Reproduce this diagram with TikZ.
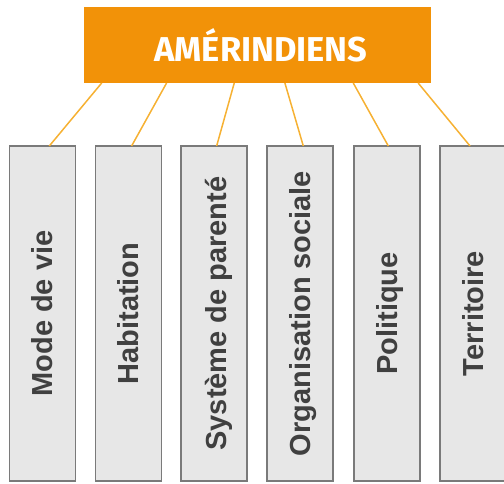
\documentclass[tikz,border=0pt]{standalone}
\usepackage{fontspec}
\setmainfont{Liberation Sans}
\newfontfamily\titlefont{Fira Sans}
\usetikzlibrary{calc}
\definecolor{orangebox}{HTML}{F29208}
\definecolor{linkcol}{HTML}{F6B133}
\definecolor{greyfill}{HTML}{E7E7E7}
\definecolor{greyline}{HTML}{7A7A7A}
\definecolor{labeltext}{HTML}{404040}
\tikzset{
  titlebox/.style={rectangle, fill=orangebox, inner sep=0pt, outer sep=0pt,
    minimum width=347pt, minimum height=76pt, text=white,
    font=\titlefont\bfseries\fontsize{34.5}{40}\selectfont},
  catbox/.style={rectangle, draw=greyline, fill=greyfill, line width=1.4pt,
    inner sep=0pt, outer sep=0pt, minimum width=66pt, minimum height=335pt},
  catlabel/.style={rotate=90, anchor=base, inner sep=0pt, text=labeltext,
    font=\bfseries\fontsize{29}{34}\selectfont},
  link/.style={draw=linkcol, line width=1.5pt}
}
\begin{document}
\begin{tikzpicture}[x=1pt,y=1pt]
\useasboundingbox (0,0) rectangle (504,-483);
\clip (0,0) rectangle (504,-483);
\node[titlebox] (top) at (257.5,-45) {\hspace*{7pt}AMÉRINDIENS};
\node[catbox] (b1) at (42.3,-313.5) {};
\node[catbox] (b2) at (128.3,-313.5) {};
\node[catbox] (b3) at (214,-313.5) {};
\node[catbox] (b4) at (300,-313.5) {};
\node[catbox] (b5) at (387,-313.5) {};
\node[catbox] (b6) at (473,-313.5) {};
\node[catlabel] (l1) at ([xshift=10.5pt]b1.center) {Mode de vie};
\node[catlabel] (l2) at ([xshift=10.5pt]b2.center) {Habitation};
\node[catlabel] (l3) at ([xshift=12pt]b3.center) {Système de parenté};
\node[catlabel] (l4) at ([xshift=10.5pt]b4.center) {Organisation sociale};
\node[catlabel] (l5) at ([xshift=10.5pt]b5.center) {Politique};
\node[catlabel] (l6) at ([xshift=10.5pt]b6.center) {Territoire};
\draw[link] ($(top.south west)!0.051!(top.south east)$) -- ($(b1.north west)!0.606!(b1.north east)$);
\draw[link] ($(top.south west)!0.238!(top.south east)$) -- ($(b2.north west)!0.55!(b2.north east)$);
\draw[link] ($(top.south west)!0.433!(top.south east)$) -- ($(b3.north west)!0.54!(b3.north east)$);
\draw[link] ($(top.south west)!0.579!(top.south east)$) -- ($(b4.north west)!0.55!(b4.north east)$);
\draw[link] ($(top.south west)!0.776!(top.south east)$) -- ($(b5.north west)!0.52!(b5.north east)$);
\draw[link] ($(top.south west)!0.963!(top.south east)$) -- ($(b6.north west)!0.455!(b6.north east)$);
\end{tikzpicture}
\end{document}
